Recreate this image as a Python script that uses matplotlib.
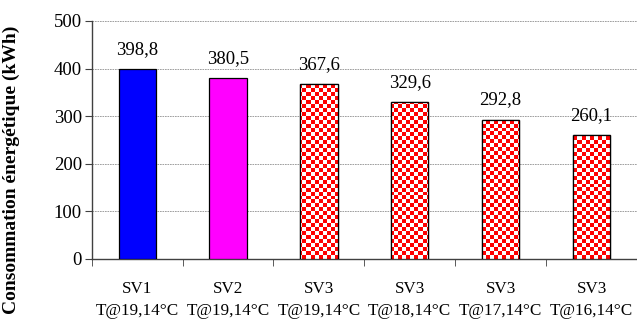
import numpy as np
import matplotlib
matplotlib.use("Agg")
import matplotlib.pyplot as plt

# data
systems = ["SV1", "SV2", "SV3", "SV3", "SV3", "SV3"]
setpoints = ["T@19,14°C", "T@19,14°C", "T@19,14°C", "T@18,14°C", "T@17,14°C", "T@16,14°C"]
conso = [398.8, 380.5, 367.6, 329.6, 292.8, 260.1]
fills = ["#0000FF", "#FF00FF", "check", "check", "check", "check"]

plt.rcParams["font.family"] = ["Liberation Serif", "DejaVu Serif"]

fig = plt.figure(figsize=(6.37, 3.22), dpi=100)
ax = fig.add_axes([0.144, 0.196, 0.856, 0.739])

x = np.arange(len(conso))
bars = ax.bar(x, conso, width=0.41, color=["white" if f == "check" else f for f in fills],
              edgecolor="black", linewidth=0.9, zorder=3)

ax.set_xlim(-0.5, len(conso) - 0.5)
ax.set_ylim(0, 500)

# checkerboard fill, ~4 px cells, clipped to each bar
cells_y, cells_x = 60, 137
board = (np.add.outer(np.arange(cells_y), np.arange(cells_x)) % 2).astype(float)
cmap = matplotlib.colors.ListedColormap(["#FF0000", "white"])
for b, f in zip(bars, fills):
    if f != "check":
        continue
    im = ax.imshow(board, cmap=cmap, interpolation="nearest", aspect="auto",
                   extent=(-0.5, len(conso) - 0.5, 0, 500), zorder=3.5)
    im.set_clip_path(b)
    edge = plt.Rectangle((b.get_x(), 0), b.get_width(), b.get_height(), fill=False,
                         edgecolor="black", linewidth=0.9, zorder=4)
    ax.add_patch(edge)

for b, v in zip(bars, conso):
    ax.annotate(f"{v:.1f}".replace(".", ","), (b.get_x() + b.get_width() / 2, v),
                xytext=(0, 8), textcoords="offset points", ha="center", va="bottom",
                fontsize=13.5)

ax.set_yticks(range(0, 501, 100))
ax.yaxis.grid(True, color="#909090", linestyle=(0, (2, 1)), linewidth=0.6, zorder=0)
ax.set_xticks(x)
ax.set_xticklabels([f"{s}\n{t}" for s, t in zip(systems, setpoints)], fontsize=12.3, linespacing=1.45)
ax.set_xticks(np.arange(-0.5, len(conso) - 0.4, 1), minor=True)
ax.tick_params(axis="x", which="major", length=0, pad=16)
ax.tick_params(axis="x", which="minor", length=5, direction="out", color="#404040")
ax.tick_params(axis="y", length=5, direction="out", labelsize=13.5, pad=2, color="#404040")

for s in ["top", "right"]:
    ax.spines[s].set_visible(False)
for s in ["left", "bottom"]:
    ax.spines[s].set_color("#404040")
    ax.spines[s].set_linewidth(1.0)

ax.set_ylabel("Consommation énergétique (kWh)", fontweight="bold", fontsize=14)
ax.yaxis.set_label_coords(-0.132, 0.374)

fig.savefig("out.png", dpi=100)
